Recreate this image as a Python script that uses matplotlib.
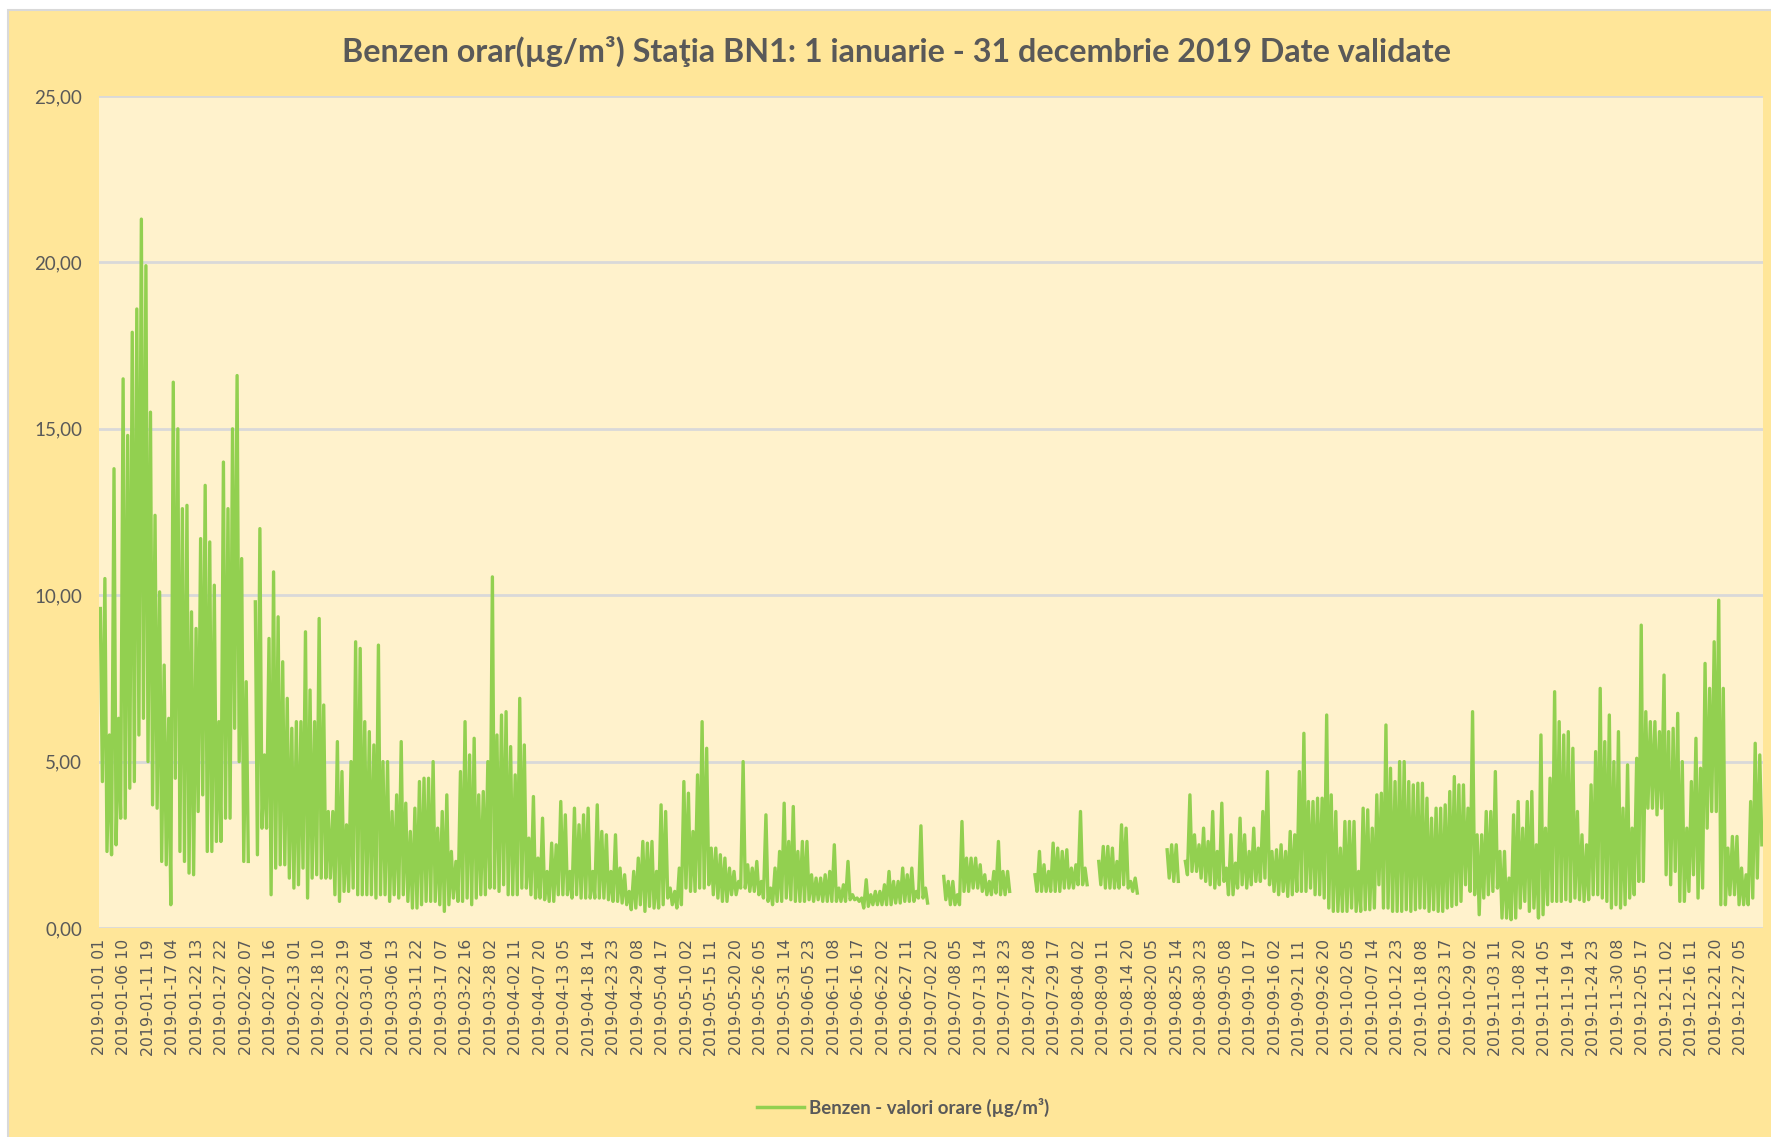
import numpy as np
import matplotlib
matplotlib.use('Agg')
import matplotlib.pyplot as plt
from matplotlib.patches import Rectangle
from matplotlib.lines import Line2D

# daily highest / lowest hourly benzene value (µg/m3), None = no data
daily_max = [
    9.6, 10.5, 5.8, 13.8, 6.3, 16.5, 14.8, 17.9, 18.6, 21.3,       # jan
    19.9, 15.5, 12.4, 10.1, 7.9, 6.3, 16.4, 15.0, 12.6, 12.7,
    9.5, 9.0, 11.7, 13.3, 11.6, 10.3, 6.2, 14.0, 12.6, 15.0,
    16.6, 11.1, 7.4, None, 9.8, 12.0, 5.2, 8.7, 10.7, 9.35,        # feb
    8.0, 6.9, 6.0, 6.2, 6.2, 8.9, 7.15, 6.2, 9.3, 6.7,
    3.5, 3.5, 5.6, 4.7, 3.1, 5.0, 8.6, 8.4, 6.2, 5.9,
    5.5, 8.5, 5.0, 5.0, 3.5, 4.0, 5.6, 3.75, 2.9, 3.6,             # mar
    4.4, 4.5, 4.5, 5.0, 3.0, 3.5, 4.0, 2.3, 2.0, 4.7,
    6.2, 5.2, 5.7, 4.0, 4.1, 5.0, 10.55, 5.8, 6.4, 6.5,
    5.45, 4.6, 6.9, 5.5, 2.7, 3.95, 2.1, 3.3, 1.7, 2.55,           # apr
    2.5, 3.8, 3.4, 1.7, 3.6, 3.1, 3.4, 3.6, 1.7, 3.7,
    2.9, 2.8, 1.7, 2.8, 1.8, 1.6, 1.1, 1.7, 2.1, 2.6,
    2.55, 2.6, 1.7, 3.7, 3.5, 1.2, 1.1, 1.8, 4.4, 4.05,            # may
    2.9, 4.6, 6.2, 5.4, 2.4, 2.4, 2.2, 2.1, 1.8, 1.7,
    1.4, 5.0, 1.9, 1.8, 2.0, 1.4, 3.4, 1.2, 1.8, 2.3,
    3.75, 2.6, 3.65, 2.3, 2.6, 2.6, 1.6, 1.5, 1.5, 1.6,            # jun
    1.7, 2.5, 1.2, 1.3, 2.0, 1.0, 0.9, 0.9, 1.45, 1.0,
    1.1, 1.1, 1.3, 1.7, 1.4, 1.4, 1.8, 1.6, 1.8, 1.1,
    3.07, 1.2, None, None, None, 1.55, 1.4, 1.4, 1.0, 3.2,         # jul
    2.1, 2.1, 2.1, 1.9, 1.6, 1.4, 1.7, 2.6, 1.7, 1.7,
    None, None, None, None, None, 1.6, 2.3, 1.9, 1.7, 2.55,
    2.4, 2.3, 2.35, 1.8, 1.9, 3.5, 1.8, None, None, 2.0,           # aug
    2.45, 2.45, 2.4, 2.0, 3.1, 3.0, 1.4, 1.5, None, None,
    None, None, None, None, 2.35, 2.5, 2.5, None, 2.0, 4.0,
    2.8, 2.5, 3.0, 2.6, 3.5, 2.3, 3.75, 1.8, 2.8, 1.95,            # sep
    3.3, 2.8, 2.3, 3.0, 2.4, 3.5, 4.7, 2.3, 2.35, 2.5,
    2.3, 2.9, 2.8, 4.7, 5.85, 3.8, 3.8, 3.9, 3.9, 6.4,
    4.0, 3.5, 2.4, 3.2, 3.2, 3.2, 1.7, 3.6, 3.55, 3.0,             # oct
    4.0, 4.05, 6.1, 4.8, 4.4, 5.0, 5.0, 4.4, 4.3, 4.35,
    4.35, 3.9, 3.3, 3.6, 3.6, 3.7, 4.1, 4.55, 4.3, 4.3,
    3.6, 6.5, 2.8, 2.8, 3.5, 3.5, 4.7, 2.3, 2.3, 1.5,              # nov
    3.4, 3.8, 3.0, 3.8, 4.1, 2.5, 5.8, 3.0, 4.5, 7.1,
    6.2, 5.8, 5.9, 5.4, 3.5, 2.8, 2.5, 4.3, 5.3, 7.2,
    5.6, 6.4, 5.0, 5.9, 3.6, 4.9, 3.0, 5.1, 9.1, 6.5,              # dec
    6.2, 6.2, 5.9, 7.6, 5.9, 6.0, 6.45, 5.0, 3.0, 4.4,
    5.7, 4.8, 7.95, 7.2, 8.6, 9.85, 7.2, 2.4, 2.75, 2.75,
    1.8, 1.6, 3.8, 5.55, 5.2,
]
daily_min = [
    4.4, 2.3, 2.2, 2.5, 3.3, 3.3, 4.2, 4.4, 5.8, 6.3,
    5.0, 3.7, 3.6, 2.0, 1.9, 0.7, 4.5, 2.3, 2.0, 1.65,
    1.6, 3.5, 4.0, 2.3, 2.3, 2.6, 2.6, 3.3, 3.3, 6.0,
    5.0, 2.0, 2.0, None, 2.2, 3.0, 3.0, 1.0, 1.8, 1.9,
    1.9, 1.5, 1.2, 1.3, 1.8, 0.9, 1.5, 1.6, 1.5, 1.5,
    1.5, 1.0, 0.8, 1.1, 1.1, 1.2, 1.0, 1.0, 1.0, 1.0,
    0.9, 1.0, 1.0, 0.8, 1.0, 0.9, 1.0, 0.8, 0.6, 0.6,
    0.7, 0.8, 0.8, 0.8, 0.7, 0.5, 0.7, 0.9, 0.8, 0.8,
    0.9, 0.7, 0.9, 1.0, 1.0, 1.2, 1.2, 1.1, 1.3, 1.0,
    1.0, 1.0, 1.2, 1.2, 1.0, 0.9, 0.9, 0.85, 0.8, 0.8,
    1.0, 1.0, 1.0, 0.9, 1.0, 0.9, 0.9, 0.9, 0.9, 0.9,
    0.9, 0.85, 0.8, 0.8, 0.75, 0.7, 0.55, 0.6, 0.7, 0.5,
    0.65, 0.6, 0.6, 0.7, 0.9, 0.7, 0.6, 0.7, 1.2, 1.1,
    1.1, 1.2, 1.2, 1.3, 1.0, 0.9, 0.8, 0.8, 1.0, 1.0,
    1.2, 1.2, 1.1, 1.1, 1.0, 0.9, 0.8, 0.7, 0.8, 0.8,
    0.9, 0.85, 0.8, 0.8, 0.8, 0.85, 0.8, 0.85, 0.8, 0.8,
    0.8, 0.8, 0.8, 0.8, 0.85, 0.85, 0.8, 0.6, 0.65, 0.7,
    0.7, 0.7, 0.7, 0.7, 0.75, 0.75, 0.8, 0.8, 0.8, 0.9,
    0.9, 0.75, None, None, None, 0.85, 0.7, 0.7, 0.7, 1.1,
    1.1, 1.2, 1.2, 1.1, 1.0, 1.0, 1.05, 1.0, 1.0, 1.1,
    None, None, None, None, None, 1.1, 1.1, 1.1, 1.1, 1.1,
    1.1, 1.2, 1.2, 1.2, 1.3, 1.3, 1.3, None, None, 1.3,
    1.2, 1.2, 1.2, 1.2, 1.3, 1.2, 1.1, 1.05, None, None,
    None, None, None, None, 1.5, 1.4, 1.4, None, 1.6, 1.7,
    1.7, 1.5, 1.4, 1.3, 1.2, 1.3, 1.4, 1.0, 1.0, 1.2,
    1.3, 1.2, 1.3, 1.4, 1.4, 1.5, 1.3, 1.1, 1.0, 1.1,
    0.95, 1.0, 1.1, 1.1, 1.1, 1.2, 1.0, 1.0, 0.9, 0.6,
    0.5, 0.5, 0.5, 0.5, 0.6, 0.5, 0.5, 0.55, 0.55, 0.6,
    1.3, 0.6, 0.6, 0.5, 0.5, 0.5, 0.55, 0.5, 0.55, 0.6,
    0.6, 0.5, 0.55, 0.5, 0.5, 0.6, 0.65, 0.7, 0.8, 1.3,
    1.1, 1.0, 0.4, 0.9, 1.0, 1.1, 1.2, 0.3, 0.3, 0.25,
    0.3, 0.6, 0.8, 0.5, 0.6, 0.3, 0.4, 0.7, 0.8, 0.8,
    0.8, 0.85, 0.8, 0.9, 0.85, 0.8, 0.85, 1.0, 1.0, 0.9,
    0.8, 0.6, 0.7, 0.6, 0.7, 0.9, 1.0, 1.4, 1.4, 3.6,
    3.6, 3.4, 3.6, 1.6, 1.3, 1.7, 0.8, 0.8, 1.1, 1.6,
    0.9, 1.2, 3.0, 3.5, 3.5, 0.7, 0.7, 1.0, 1.0, 0.7,
    0.7, 0.7, 0.9, 1.5, 2.5,
]

# category axis labels (every 129th hour)
tick_labels = [
    '2019-01-01 01', '2019-01-06 10', '2019-01-11 19', '2019-01-17 04', '2019-01-22 13',
    '2019-01-27 22', '2019-02-02 07', '2019-02-07 16', '2019-02-13 01', '2019-02-18 10',
    '2019-02-23 19', '2019-03-01 04', '2019-03-06 13', '2019-03-11 22', '2019-03-17 07',
    '2019-03-22 16', '2019-03-28 02', '2019-04-02 11', '2019-04-07 20', '2019-04-13 05',
    '2019-04-18 14', '2019-04-23 23', '2019-04-29 08', '2019-05-04 17', '2019-05-10 02',
    '2019-05-15 11', '2019-05-20 20', '2019-05-26 05', '2019-05-31 14', '2019-06-05 23',
    '2019-06-11 08', '2019-06-16 17', '2019-06-22 02', '2019-06-27 11', '2019-07-02 20',
    '2019-07-08 05', '2019-07-13 14', '2019-07-18 23', '2019-07-24 08', '2019-07-29 17',
    '2019-08-04 02', '2019-08-09 11', '2019-08-14 20', '2019-08-20 05', '2019-08-25 14',
    '2019-08-30 23', '2019-09-05 08', '2019-09-10 17', '2019-09-16 02', '2019-09-21 11',
    '2019-09-26 20', '2019-10-02 05', '2019-10-07 14', '2019-10-12 23', '2019-10-18 08',
    '2019-10-23 17', '2019-10-29 02', '2019-11-03 11', '2019-11-08 20', '2019-11-14 05',
    '2019-11-19 14', '2019-11-24 23', '2019-11-30 08', '2019-12-05 17', '2019-12-11 02',
    '2019-12-16 11', '2019-12-21 20', '2019-12-27 05',
]
tick_step = 129
n_hours = 8760

title = 'Benzen orar(µg/m³) Staţia BN1: 1 ianuarie - 31 decembrie 2019 Date validate'
series_name = 'Benzen - valori orare (µg/m³)'

# build the hourly-axis series: daily high then daily low
x, y = [], []
for d, (hi, lo) in enumerate(zip(daily_max, daily_min)):
    x += [d * 24 + 7, d * 24 + 18]
    y += [np.nan if hi is None else hi, np.nan if lo is None else lo]
x = np.array(x, dtype=float)
y = np.array(y, dtype=float)

GREEN = '#92D050'
TXT = '#595959'
W, H = 1771, 1137

fig = plt.figure(figsize=(W / 100, H / 100), dpi=100)
fig.patch.set_facecolor('white')
bg = Rectangle((8 / W, -0.01), 1.0, 1 - 10 / H + 0.01, transform=fig.transFigure,
               facecolor='#FFE699', edgecolor='#D9D9D9', lw=1.5, zorder=-10)
fig.patches.append(bg)

ax = fig.add_axes([99 / W, (H - 928) / H, (1763 - 99) / W, (928 - 96) / H])
ax.set_zorder(1)
ax.set_facecolor('#FFF2CC')
ax.plot(x, y, color=GREEN, lw=2.4, solid_joinstyle='round', zorder=3)

ax.set_xlim(0, n_hours)
ax.set_ylim(0, 25)
ax.set_yticks(np.arange(0, 26, 5))
ax.set_yticklabels([f'{v:.2f}'.replace('.', ',') for v in np.arange(0, 26, 5)],
                   family='Lato', fontsize=13.5, color=TXT)
ax.set_xticks(np.arange(len(tick_labels)) * tick_step)
ax.set_xticklabels(tick_labels, rotation=90, family='DejaVu Sans', fontsize=11.3, color=TXT)
ax.tick_params(axis='both', length=0)
ax.tick_params(axis='y', pad=12)
ax.tick_params(axis='x', pad=8)
ax.grid(axis='y', color='#D9D9D9', lw=2)
ax.set_axisbelow(True)
for s in ax.spines.values():
    s.set_visible(False)

fig.text(0.506, 1 - 51 / H, title, ha='center', va='center',
         family='Lato', fontweight='bold', fontsize=23.2, color=TXT)

handle = Line2D([], [], color=GREEN, lw=2.5)
fig.legend([handle], [series_name], loc='center', bbox_to_anchor=(0.51, 1 - 1107 / H),
           frameon=False, handlelength=2.5, handletextpad=0.3,
           prop={'family': 'Lato', 'weight': 'bold', 'size': 13.4}, labelcolor=TXT)

fig.savefig('out.png', dpi=100, facecolor=fig.get_facecolor())
